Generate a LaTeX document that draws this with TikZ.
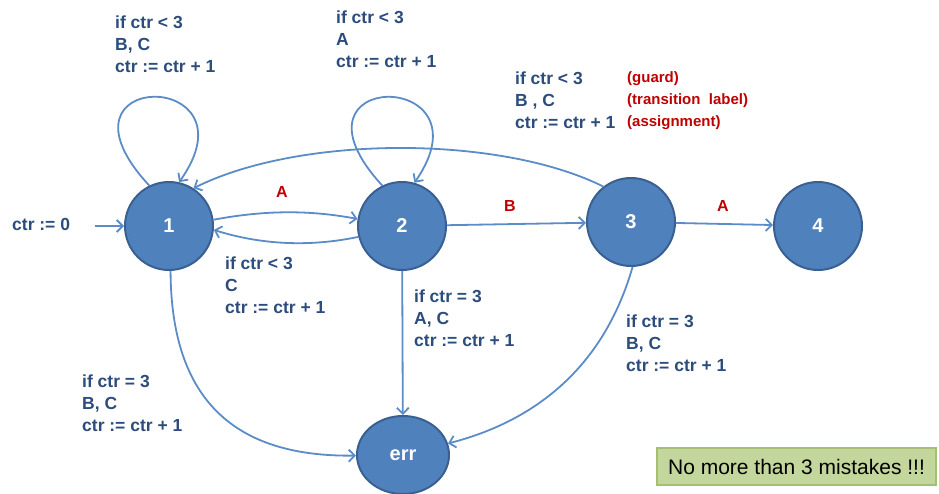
\documentclass[tikz,border=0pt]{standalone}
\usepackage{fontspec}
\setmainfont{Liberation Sans}
\usetikzlibrary{arrows.meta,shapes.geometric}

\definecolor{statefill}{HTML}{4F81BD}
\definecolor{stateedge}{HTML}{3A6091}
\definecolor{wire}{HTML}{5B8CC8}
\definecolor{labelblue}{HTML}{2C4C7C}
\definecolor{labelred}{HTML}{C00000}
\definecolor{notefill}{HTML}{C3D69B}
\definecolor{noteedge}{HTML}{A3C070}

\begin{document}
\begin{tikzpicture}[x=1pt,y=-1pt,
  state/.style={circle, minimum size=88pt, inner sep=0pt, fill=statefill,
    draw=stateedge, line width=2pt, text=white,
    font=\fontsize{20}{24}\selectfont\bfseries},
  trap/.style={state, ellipse, minimum width=92pt, minimum height=78pt},
  trans/.style={draw=wire, line width=1.8pt,
    -{Straight Barb[length=6pt,width=12pt]}},
  guard/.style={anchor=north west, inner sep=0pt, align=left,
    text=labelblue, font=\fontsize{17.5}{22}\selectfont\bfseries},
  remark/.style={anchor=north west, inner sep=0pt, align=left,
    text=labelred, font=\fontsize{15}{22}\selectfont\bfseries},
  event/.style={inner sep=0pt, text=labelred,
    font=\fontsize{16}{19}\selectfont\bfseries},
  note/.style={draw=noteedge, fill=notefill, line width=1.2pt,
    minimum width=279pt, minimum height=37pt, inner sep=0pt,
    font=\fontsize{21}{24}\selectfont}
]
\useasboundingbox (0,0) rectangle (939,494);

% states
\node[state] (n1) at (169,226) {1};
\node[state] (n2) at (402,226) {2};
\node[state] (n3) at (631,222) {3};
\node[state] (n4) at (818,226) {4};
\node[trap]  (err) at (403,455) {err};

% initial transition
\coordinate (init) at (95,226);
\node[guard] (initlbl) at (12,218) {ctr := 0};
\draw[trans] (init) -- (n1);

% self loops
\draw[trans] (n1.116) .. controls (40,68) and (260,68) .. (n1.77);
\draw[trans] (n2.116) .. controls (274,68) and (494,68) .. (n2.74);

% transitions between states
\draw[trans] (n1.8) .. controls (265,210) and (310,210) .. (n2.171);
\draw[trans] (n2.-166) .. controls (310,247) and (262,245) .. (n1.-5);
\draw[trans] (n3.128) .. controls (500,135) and (300,135) .. (n1.57);
\draw[trans] (n2) -- (n3);
\draw[trans] (n3) -- (n4);

% transitions into the error state
\draw[trans] (n1.-88) .. controls (171,410) and (245,457) .. (err);
\draw[trans] (n2) -- (err);
\draw[trans] (n3.-88) .. controls (600,380) and (520,425) .. (err);

% transition labels
\node[event] (a12) at (282,192) {A};
\node[event] (b23) at (510,206) {B};
\node[event] (a34) at (723,206) {A};

\node[guard] (loop1lbl) at (115,16) {if ctr < 3\\B, C\\ctr := ctr + 1};
\node[guard] (loop2lbl) at (336,11) {if ctr < 3\\A\\ctr := ctr + 1};
\node[guard] (back21lbl) at (225,257) {if ctr < 3\\C\\ctr := ctr + 1};
\node[guard] (err1lbl) at (82,375) {if ctr = 3\\B, C\\ctr := ctr + 1};
\node[guard] (err2lbl) at (414,290) {if ctr = 3\\A, C\\ctr := ctr + 1};
\node[guard] (err3lbl) at (626,315) {if ctr = 3\\B, C\\ctr := ctr + 1};

% legend of the label parts
\node[guard] (legend) at (515,72) {if ctr < 3\\B , C\\ctr := ctr + 1};
\node[remark] (legendparts) at (627,71) {(guard)\\(transition\ \ label)\\(assignment)};

% note box
\node[note] (limit) at (796.5,466.5) {No more than 3 mistakes !!!};
\end{tikzpicture}
\end{document}
